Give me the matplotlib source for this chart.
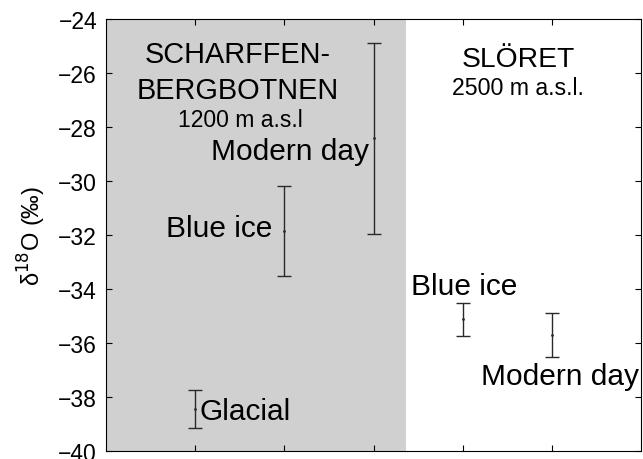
import matplotlib.pyplot as plt

plt.rcParams['font.family'] = ['Liberation Sans', 'DejaVu Sans']

# site positions and d18O ranges (per mil)
xpos = [1, 2, 3, 4, 5]
centre = [-38.45, -31.85, -28.4, -35.1, -35.7]
upper = [-37.75, -30.2, -24.9, -34.5, -34.9]
lower = [-39.15, -33.5, -31.95, -35.75, -36.5]
shade_end = 3.36

err_lo = [c - l for c, l in zip(centre, lower)]
err_hi = [u - c for c, u in zip(centre, upper)]

fig = plt.figure(figsize=(6.43, 4.60), dpi=100)
ax = fig.add_axes([0.165, 0.0174, 0.832, 0.939])

ax.axvspan(0, shade_end, color='#d0d0d0', lw=0, zorder=0)
ax.errorbar(xpos, centre, yerr=[err_lo, err_hi], fmt='.', ms=2, color='#2a2a2a',
            elinewidth=1.0, capsize=5, capthick=1.0)

ax.set_xlim(0, 6)
ax.set_ylim(-40, -24)
ax.set_xticks(xpos)
ax.set_xticklabels([])
ax.set_yticks(range(-40, -23, 2))
ax.tick_params(direction='in', top=True, right=True, labelsize=16.5, length=4, pad=6.5)
ax.set_ylabel('δ$^{18}$O (‰)', fontsize=17, labelpad=7)

big = 21.5
ax.text(1.48, -25.59, 'SCHARFFEN-', fontsize=20.8, ha='center', va='baseline')
ax.text(1.48, -26.93, 'BERGBOTNEN', fontsize=20.8, ha='center', va='baseline')
ax.text(1.51, -27.96, '1200 m a.s.l', fontsize=16.5, ha='center', va='baseline')
ax.text(2.95, -29.19, 'Modern day', fontsize=big, ha='right', va='baseline')
ax.text(1.87, -32.04, 'Blue ice', fontsize=big, ha='right', va='baseline')
ax.text(1.043, -38.81, 'Glacial', fontsize=big, ha='left', va='baseline')
ax.text(4.62, -25.74, 'SLÖRET', fontsize=20.3, ha='center', va='baseline')
ax.text(4.62, -26.78, '2500 m a.s.l.', fontsize=16.7, ha='center', va='baseline')
ax.text(3.42, -34.19, 'Blue ice', fontsize=big, ha='left', va='baseline')
ax.text(5.975, -37.52, 'Modern day', fontsize=big, ha='right', va='baseline')

fig.savefig('out.png', dpi=100)
